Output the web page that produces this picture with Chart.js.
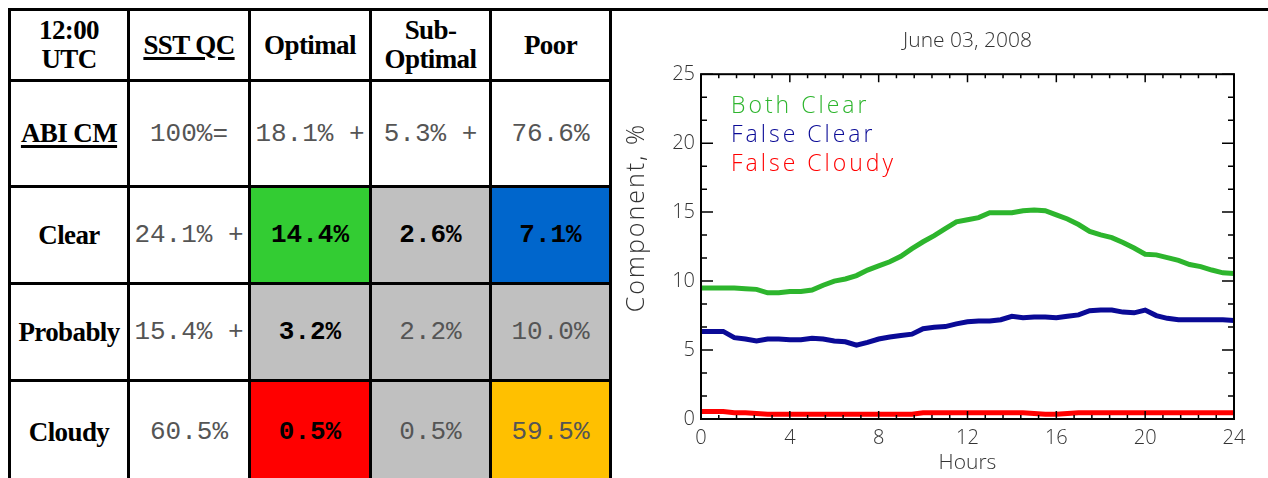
<!DOCTYPE html>
<html>
<head>
<meta charset="utf-8">
<script src="https://cdn.jsdelivr.net/npm/chart.js@4.4.1/dist/chart.umd.min.js"></script>
<style>
  body { margin: 0; background: #fff; width: 1268px; height: 478px; overflow: hidden; position: relative; }
  .topline { position: absolute; left: 8px; top: 8px; width: 1260px; height: 3px; background: #000; }
  .grid {
    position: absolute; left: 8px; top: 8px;
    display: grid;
    grid-template-columns: 116px 118px 118px 117px 117px;
    grid-template-rows: 68px 103px 94px 94px 100px;
    gap: 3px; background: #000; border: 3px solid #000;
  }
  .grid > div {
    background: #fff; display: flex; align-items: center; justify-content: center;
    text-align: center; white-space: pre;
    font-family: "Liberation Mono", "Courier New", monospace; font-size: 26px; color: #555;
  }
  .grid > div.h {
    font-family: "Liberation Serif", "Times New Roman", serif; font-weight: bold; font-size: 27px;
    color: #000; line-height: 29px; letter-spacing: -0.6px;
  }
  .grid > div.u span { text-decoration: underline; text-decoration-thickness: 3px; text-underline-offset: 3px; }
  .grid > div.b { font-weight: bold; color: #000; }
  .green { background: #33cc33 !important; }
  .gray { background: #c0c0c0 !important; }
  .blue { background: #0066cc !important; }
  .red { background: #ff0000 !important; }
  .orange { background: #ffc000 !important; }
  .wrap { position: absolute; left: 612px; top: 11px; width: 656px; height: 467px; }
</style>
</head>
<body>
<div class="topline"></div>
<div class="grid">
  <div class="h">12:00
UTC</div>
  <div class="h u"><span>SST QC</span></div>
  <div class="h">Optimal</div>
  <div class="h">Sub-
Optimal</div>
  <div class="h">Poor</div>

  <div class="h u"><span>ABI CM</span></div>
  <div>100%=</div>
  <div>18.1% +</div>
  <div>5.3% +</div>
  <div>76.6%</div>

  <div class="h">Clear</div>
  <div>24.1% +</div>
  <div class="b green">14.4%</div>
  <div class="b gray">2.6%</div>
  <div class="b blue">7.1%</div>

  <div class="h">Probably</div>
  <div>15.4% +</div>
  <div class="b gray">3.2%</div>
  <div class="gray">2.2%</div>
  <div class="gray">10.0%</div>

  <div class="h">Cloudy</div>
  <div>60.5%</div>
  <div class="b red">0.5%</div>
  <div class="gray">0.5%</div>
  <div class="orange">59.5%</div>
</div>

<div class="wrap"><canvas id="dailyChart"></canvas></div>

<script>
const hours = [0, 0.5, 1, 1.5, 2, 2.5, 3, 3.5, 4, 4.5, 5, 5.5, 6, 6.5, 7, 7.5, 8, 8.5, 9, 9.5,
  10, 10.5, 11, 11.5, 12, 12.5, 13, 13.5, 14, 14.5, 15, 15.5, 16, 16.5, 17, 17.5, 18, 18.5, 19, 19.5,
  20, 20.5, 21, 21.5, 22, 22.5, 23, 23.5, 24];

const bothClear = [9.5, 9.5, 9.5, 9.5, 9.45, 9.4, 9.15, 9.15, 9.25, 9.25, 9.35, 9.7, 10.0, 10.15, 10.4, 10.8, 11.1, 11.4, 11.8, 12.35,
  12.85, 13.3, 13.8, 14.3, 14.45, 14.6, 14.95, 14.95, 14.95, 15.1, 15.15, 15.1, 14.8, 14.5, 14.1, 13.6, 13.35, 13.15, 12.8, 12.4,
  11.95, 11.9, 11.7, 11.5, 11.2, 11.05, 10.8, 10.6, 10.55];

const falseClear = [6.35, 6.35, 6.35, 5.9, 5.8, 5.65, 5.8, 5.8, 5.75, 5.75, 5.85, 5.8, 5.65, 5.6, 5.35, 5.55, 5.8, 5.95, 6.05, 6.15,
  6.55, 6.65, 6.7, 6.9, 7.05, 7.1, 7.1, 7.2, 7.45, 7.35, 7.4, 7.4, 7.35, 7.45, 7.55, 7.85, 7.9, 7.9, 7.75, 7.7,
  7.9, 7.5, 7.3, 7.2, 7.2, 7.2, 7.2, 7.2, 7.15];

const falseCloudy = [0.55, 0.55, 0.55, 0.45, 0.45, 0.4, 0.35, 0.35, 0.35, 0.35, 0.35, 0.35, 0.35, 0.35, 0.35, 0.35, 0.35, 0.35, 0.35, 0.35,
  0.45, 0.45, 0.45, 0.45, 0.45, 0.45, 0.45, 0.45, 0.45, 0.45, 0.4, 0.35, 0.35, 0.4, 0.45, 0.45, 0.45, 0.45, 0.45, 0.45,
  0.45, 0.45, 0.45, 0.45, 0.45, 0.45, 0.45, 0.45, 0.45];

const seriesNames = ['Both Clear', 'False Clear', 'False Cloudy'];
const seriesColors = ['#2db52d', '#0a0a96', '#ff0000'];
const xTicks = [0, 4, 8, 12, 16, 20, 24];
const yTicks = [0, 5, 10, 15, 20, 25];

const chartTitle = 'June 03, 2008';
const xTitle = 'Hours';
const yTitle = 'Component, %';

const FONT = "'Open Sans', sans-serif";
const TEXT = '#333';

// IDL style box with inward ticks, plus the y title and the in-plot legend
const idlFrame = {
    id: 'idlFrame',
    afterDatasetsDraw(chart) {
        const ctx = chart.ctx;
        const a = chart.chartArea;
        const x = chart.scales.x;
        const y = chart.scales.y;
        ctx.save();
        ctx.strokeStyle = '#000';
        ctx.lineWidth = 2;
        ctx.strokeRect(a.left, a.top, a.right - a.left, a.bottom - a.top);

        ctx.lineWidth = 1.5;
        ctx.beginPath();
        for (let i = 0; i <= 30; i++) {
            const px = x.getPixelForValue(i * 0.8);
            const len = i % 5 === 0 ? 8 : 4;
            ctx.moveTo(px, a.bottom); ctx.lineTo(px, a.bottom - len);
            ctx.moveTo(px, a.top); ctx.lineTo(px, a.top + len);
        }
        for (let i = 0; i <= 15; i++) {
            const py = y.getPixelForValue(i * 5 / 3);
            const len = i % 3 === 0 ? 12 : 6;
            ctx.moveTo(a.left, py); ctx.lineTo(a.left + len, py);
            ctx.moveTo(a.right, py); ctx.lineTo(a.right - len, py);
        }
        ctx.stroke();

        // legend text in the plot
        ctx.font = '300 23px ' + FONT;
        ctx.letterSpacing = '3px';
        ctx.textBaseline = 'middle';
        ctx.textAlign = 'left';
        chart.data.datasets.forEach((ds, i) => {
            ctx.fillStyle = ds.borderColor;
            ctx.fillText(ds.label, a.left + 30, a.top + 32 + i * 29);
        });

        // y title, sits a bit above the middle like the original
        ctx.translate(25, (a.top + a.bottom) / 2 - 29);
        ctx.rotate(-Math.PI / 2);
        ctx.textAlign = 'center';
        ctx.letterSpacing = '2px';
        ctx.font = '300 25px ' + FONT;
        ctx.fillStyle = TEXT;
        ctx.fillText(yTitle, 0, 0);
        ctx.restore();
    }
};

const ctx = document.getElementById('dailyChart').getContext('2d');

new Chart(ctx, {
    type: 'line',
    data: {
        labels: hours,
        datasets: seriesNames.map((name, i) => ({
            label: name,
            data: [bothClear, falseClear, falseCloudy][i].map((v, j) => ({ x: hours[j], y: v })),
            borderColor: seriesColors[i],
            backgroundColor: seriesColors[i],
            borderWidth: 5,
            pointRadius: 0,
            tension: 0,
            fill: false
        }))
    },
    options: {
        responsive: true,
        maintainAspectRatio: false,
        animation: false,
        layout: {
            padding: { left: 0, right: 34, top: 0, bottom: 0 }
        },
        plugins: {
            legend: { display: false },
            tooltip: { enabled: false },
            title: {
                display: true,
                fullSize: false,
                text: chartTitle,
                color: TEXT,
                font: { family: FONT, size: 21, weight: '300' },
                padding: { top: 17, bottom: 21 }
            }
        },
        scales: {
            x: {
                type: 'linear',
                min: 0,
                max: 24,
                afterBuildTicks: (scale) => { scale.ticks = xTicks.map(v => ({ value: v })); },
                afterFit: (scale) => { scale.height = 59; },
                grid: { display: false, drawTicks: false },
                border: { display: false },
                ticks: {
                    color: TEXT,
                    padding: 7,
                    maxRotation: 0,
                    autoSkip: false,
                    font: { family: FONT, size: 20, weight: '300' }
                },
                title: {
                    display: true,
                    text: xTitle,
                    color: TEXT,
                    font: { family: FONT, size: 21, weight: '300' },
                    padding: { top: 0, bottom: 2 }
                }
            },
            y: {
                min: 0,
                max: 25,
                afterBuildTicks: (scale) => { scale.ticks = yTicks.map(v => ({ value: v })); },
                afterFit: (scale) => { scale.width = 89; },
                grid: { display: false, drawTicks: false },
                border: { display: false },
                ticks: {
                    color: TEXT,
                    padding: 6,
                    autoSkip: false,
                    font: { family: FONT, size: 20, weight: '300' }
                }
            }
        }
    },
    plugins: [idlFrame]
});
</script>
</body>
</html>
